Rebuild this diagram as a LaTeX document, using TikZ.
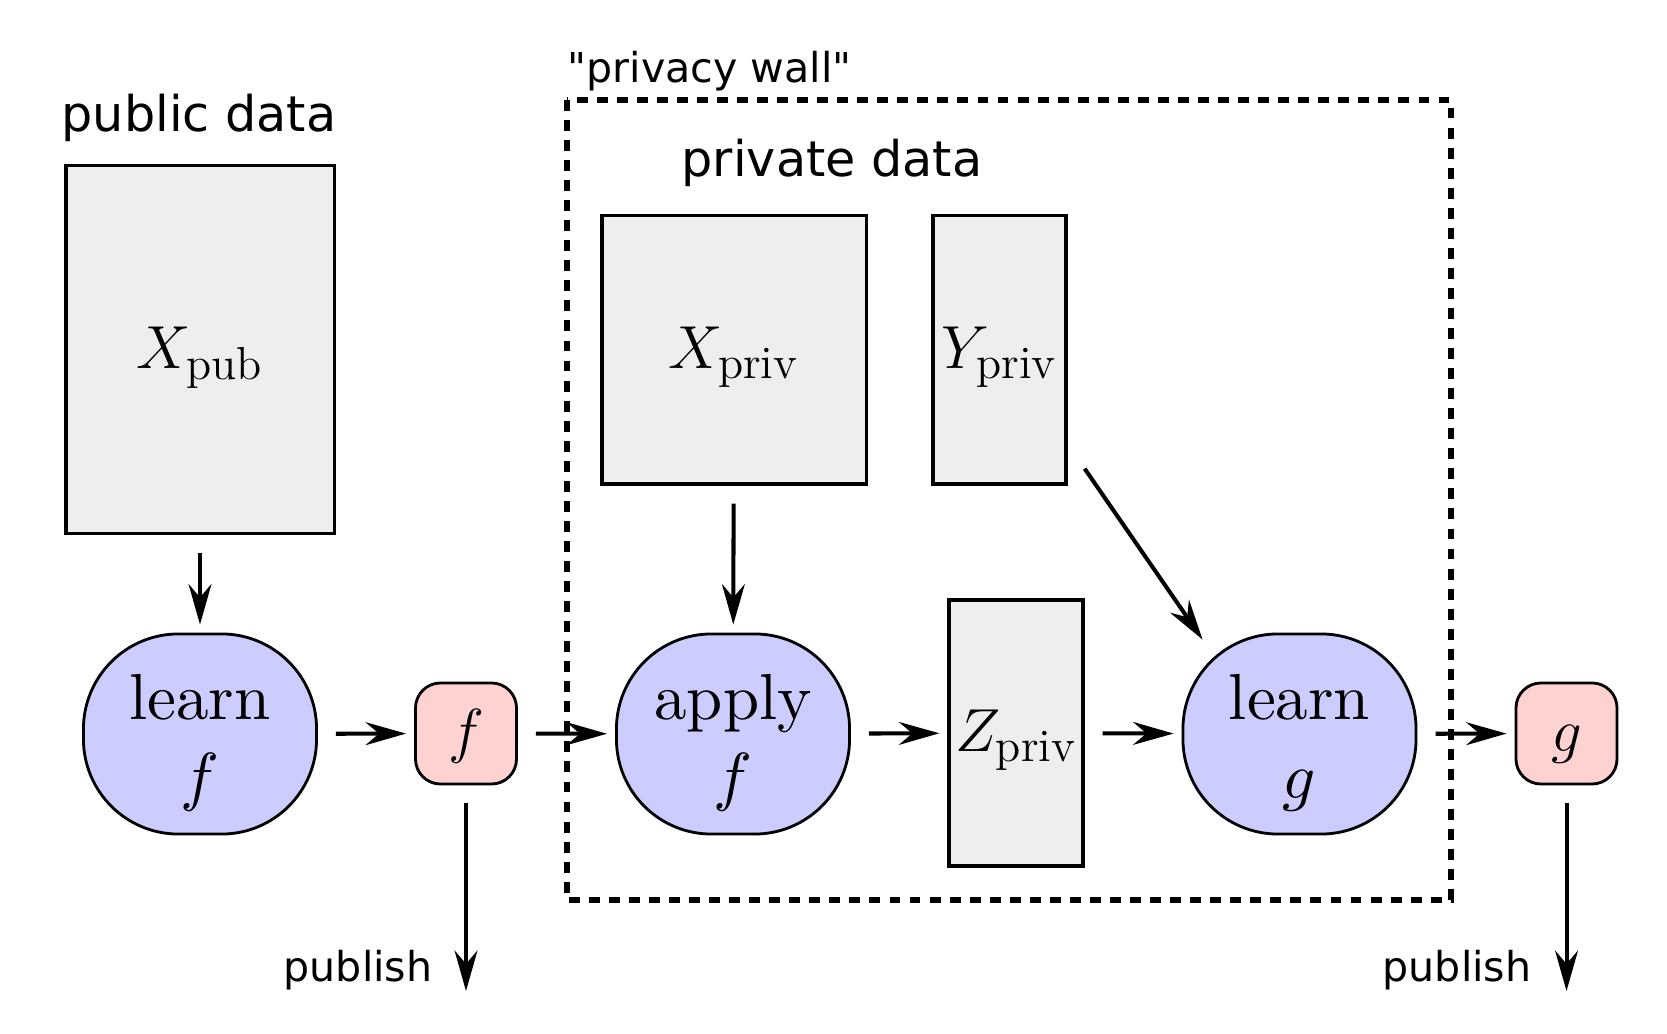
\documentclass[tikz,border=0pt]{standalone}
\usepackage{graphicx}
\usepackage{fontspec}
\setsansfont{DejaVu Sans}[Ligatures=TeXOff]
\usetikzlibrary{arrows.meta}
\definecolor{datagray}{RGB}{238,238,238}
\definecolor{steplilac}{RGB}{204,204,255}
\definecolor{outpink}{RGB}{255,210,210}
\newcommand{\blobtxt}[2]{\rule{0pt}{17.6pt}\scalebox{1.85}{#1}\\\scalebox{1.85}{$#2$}}
\tikzset{
	databox/.style={draw=black, line width=0.9pt, fill=datagray, inner sep=0pt, text height=15pt, text depth=4.3pt, font=\fontsize{18.8}{24}\selectfont},
	stepblob/.style={draw=black, line width=0.8pt, fill=steplilac, rounded corners=0.95cm, minimum width=2.33cm, minimum height=2cm, align=center, inner sep=0pt, font=\fontsize{10}{22.5}\selectfont},
	outbox/.style={draw=black, line width=0.8pt, fill=outpink, rounded corners=0.25cm, minimum size=1.01cm, inner sep=0pt, text height=13pt, text depth=3pt, font=\fontsize{18.5}{24}\selectfont},
	arr/.style={-{Stealth[length=11.5pt,width=6.5pt,inset=3.8pt]}, line width=1.15pt, shorten <=0.18cm, shorten >=0.08cm},
	wall/.style={line width=1.7pt, dash pattern=on 3.1pt off 2.6pt},
	biglbl/.style={font=\sffamily\fontsize{14}{16}\selectfont, inner sep=0pt},
	smalllbl/.style={font=\sffamily\fontsize{11.7}{14}\selectfont, inner sep=0pt}
}

\begin{document}
\begin{tikzpicture}[x=0.01cm, y=-0.01cm]
		%%%%% START %%%%%
		\useasboundingbox (0, 0) rectangle (1667, 1034);
		
		% public side
		\node[biglbl] (publbl) at (199, 118) {public data};
		\node[databox, minimum width=2.68cm, minimum height=3.67cm] (xpub) at (200, 349.5) {$X_{\mathrm{pub}}$};
		\node[stepblob] (learnf) at (200, 734) {\blobtxt{learn}{f}};
		\node[outbox] (fout) at (466, 733.5) {$f$};
		
		% inside the wall
		\draw[wall] (567, 100) rectangle (1451, 900);
		\node[smalllbl, anchor=west] (walllbl) at (567, 71) {"privacy wall"};
		\node[biglbl] (privlbl) at (832, 163) {private data};
		\node[databox, minimum width=2.64cm, minimum height=2.68cm] (xpriv) at (734, 350) {$X_{\mathrm{priv}}$};
		\node[databox, minimum width=1.33cm, minimum height=2.68cm] (ypriv) at (999.5, 350) {$Y_{\mathrm{priv}}$};
		\node[stepblob] (applyf) at (733, 734) {\blobtxt{apply}{f}};
		\node[databox, minimum width=1.34cm, minimum height=2.66cm] (zpriv) at (1016, 733) {$Z_{\mathrm{priv}}$};
		\node[stepblob] (learng) at (1299.5, 734) {\blobtxt{learn}{g}};
		\node[outbox] (gout) at (1566.5, 733.5) {$g$};
		
		% publish
		\coordinate (fend) at (466, 991);
		\coordinate (gend) at (1566.5, 991);
		\node[smalllbl] (pubf) at (358, 970) {publish};
		\node[smalllbl] (pubg) at (1457, 970) {publish};
		
		% arrows
		\draw[arr] (xpub) -- (learnf);
		\draw[arr] (learnf) -- (fout);
		\draw[arr] (fout) -- (applyf);
		\draw[arr] (xpriv) -- (applyf);
		\draw[arr] (applyf) -- (zpriv);
		\draw[arr] (zpriv) -- (learng);
		\draw[arr, shorten <=0pt, shorten >=0pt] ([xshift=0.17cm, yshift=0.17cm]ypriv.south east) -- ([xshift=0.21cm, yshift=-0.07cm]learng.north west);
		\draw[arr] (learng) -- (gout);
		\draw[arr, shorten >=0pt] (fout) -- (fend);
		\draw[arr, shorten >=0pt] (gout) -- (gend);
		%%%%% END %%%%%
\end{tikzpicture}
\end{document}
